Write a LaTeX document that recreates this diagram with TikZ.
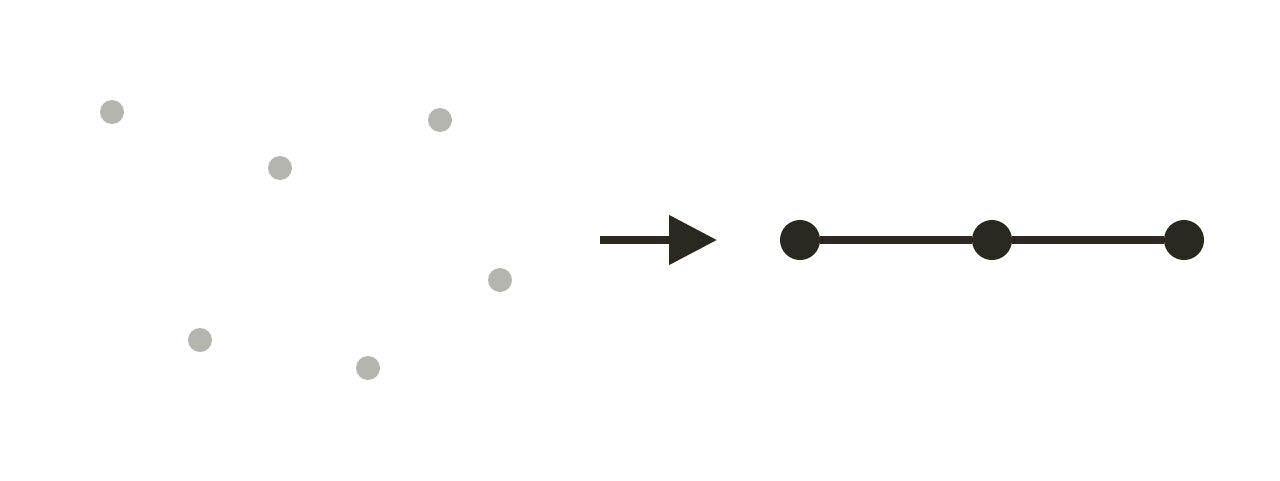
\documentclass[tikz,border=0pt]{standalone}
\usetikzlibrary{arrows.meta}
\definecolor{dotgray}{HTML}{B5B5B0}
\definecolor{ink}{HTML}{2B2820}
\begin{document}
\begin{tikzpicture}[x=1pt,y=-1pt,
  pt/.style={circle,fill=dotgray,inner sep=0pt,minimum size=24pt},
  vtx/.style={circle,fill=ink,inner sep=0pt,minimum size=40pt},
  edge/.style={draw=ink,line width=8pt},
  bigarrow/.style={draw=ink,line width=8pt,-{Triangle[length=48pt,width=48pt]}}]
\useasboundingbox (0,0) rectangle (1280,480);
\node[pt] (p1) at (112,112) {};
\node[pt] (p2) at (440,120) {};
\node[pt] (p3) at (280,168) {};
\node[pt] (p4) at (500,280) {};
\node[pt] (p5) at (200,340) {};
\node[pt] (p6) at (368,368) {};
\coordinate (as) at (600,240);
\coordinate (ae) at (717,240);
\draw[bigarrow] (as) -- (ae);
\node[vtx] (a) at (800,240) {};
\node[vtx] (b) at (992,240) {};
\node[vtx] (c) at (1184,240) {};
\draw[edge] (a) -- (b);
\draw[edge] (b) -- (c);
\end{tikzpicture}
\end{document}
